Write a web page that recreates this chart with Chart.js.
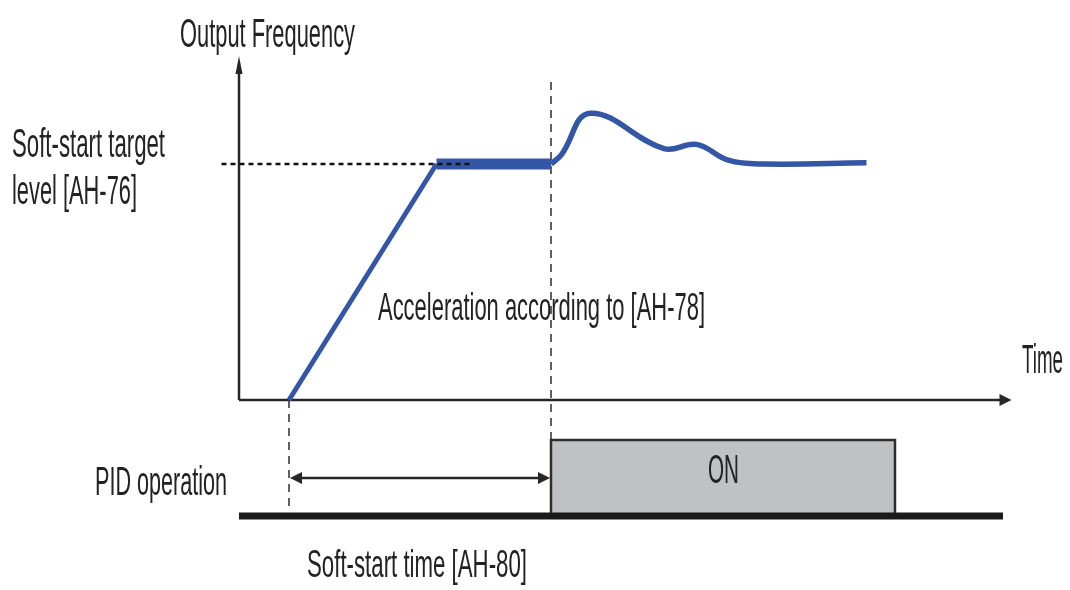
<!DOCTYPE html>
<html>
<head>
<meta charset="utf-8">
<script src="https://cdn.jsdelivr.net/npm/chart.js@4/dist/chart.umd.min.js"></script>
<style>
  body { margin: 0; background: #fff; }
  #wrap { width: 1070px; height: 590px; }
</style>
</head>
<body>
<div id="wrap"><canvas id="chart"></canvas></div>
<script>
// time units: soft-start begins at t=1, frequency in % of target level
const rampTime = [1, 3.95];
const rampFreq = [0, 100];
const holdTime = [3.95, 6.24];
const holdFreq = [100, 100];
const pidTime = [6.24, 6.45, 7.02, 8.5, 9.15, 9.8, 10.5, 12.55];
const pidFreq = [100, 104, 121.5, 106.5, 108.3, 101.5, 100, 100.5];
const targetTime = [-0.35, 4.62];
const targetFreq = [100, 100];
const onTime = [6.24, 6.24, 13.12, 13.12];
const onState = [0, 1, 1, 0];
const baseTime = [0, 15.28];
const baseState = [0, 0];
const softStartBegin = 1;
const softStartEnd = 6.24;
const timeAxisEnd = 15.45;

const blue = 'rgb(52, 86, 166)';
const ink = '#262626';

const pts = (xs, ys) => xs.map((x, i) => ({ x: x, y: ys[i] }));

function fitText(ctx, str, left, baseline, width, size) {
    ctx.font = size + 'px "Liberation Sans Narrow", "Liberation Sans", Arial, sans-serif';
    const w = ctx.measureText(str).width;
    ctx.save();
    ctx.translate(left, baseline);
    ctx.scale(width / w, 1);
    ctx.fillText(str, 0, 0);
    ctx.restore();
}

function arrowHead(ctx, x, y, dir, len, half) {
    ctx.beginPath();
    if (dir === 'right') { ctx.moveTo(x, y); ctx.lineTo(x - len, y - half); ctx.lineTo(x - len, y + half); }
    if (dir === 'left') { ctx.moveTo(x, y); ctx.lineTo(x + len, y - half); ctx.lineTo(x + len, y + half); }
    if (dir === 'up') { ctx.moveTo(x, y); ctx.lineTo(x - half, y + len); ctx.lineTo(x + half, y + len); }
    ctx.closePath();
    ctx.fill();
}

const diagram = {
    id: 'diagram',
    beforeDatasetsDraw(chart) {
        const ctx = chart.ctx;
        const xs = chart.scales.x, ys = chart.scales.y, y2 = chart.scales.y2;
        const ox = xs.getPixelForValue(0), oy = ys.getPixelForValue(0);
        ctx.save();
        ctx.strokeStyle = ink;
        ctx.fillStyle = ink;
        ctx.lineWidth = 2.5;
        // axes
        ctx.beginPath();
        ctx.moveTo(ox, oy);
        ctx.lineTo(ox, 70);
        ctx.moveTo(ox, oy);
        ctx.lineTo(xs.getPixelForValue(timeAxisEnd) - 8, oy);
        ctx.stroke();
        arrowHead(ctx, ox, 56, 'up', 18, 3.5);
        arrowHead(ctx, xs.getPixelForValue(timeAxisEnd), oy, 'right', 12, 6);
        // dashed markers
        ctx.setLineDash([8, 6]);
        ctx.lineWidth = 1.6;
        ctx.strokeStyle = '#3a3a3a';
        const sx = xs.getPixelForValue(softStartBegin);
        const ex = xs.getPixelForValue(softStartEnd);
        ctx.beginPath();
        ctx.moveTo(sx, oy);
        ctx.lineTo(sx, y2.getPixelForValue(0.08));
        ctx.moveTo(ex, 82);
        ctx.lineTo(ex, y2.getPixelForValue(1));
        ctx.stroke();
        ctx.restore();
    },
    afterDatasetsDraw(chart) {
        const ctx = chart.ctx;
        const xs = chart.scales.x, y2 = chart.scales.y2;
        ctx.save();
        ctx.strokeStyle = ink;
        ctx.fillStyle = ink;
        // soft-start time span
        const sx = xs.getPixelForValue(softStartBegin);
        const ex = xs.getPixelForValue(softStartEnd);
        const ay = y2.getPixelForValue(0.5);
        ctx.lineWidth = 2.5;
        ctx.beginPath();
        ctx.moveTo(sx + 6, ay);
        ctx.lineTo(ex - 6, ay);
        ctx.stroke();
        arrowHead(ctx, sx + 1, ay, 'left', 12, 6);
        arrowHead(ctx, ex - 1, ay, 'right', 12, 6);
        // labels
        ctx.fillStyle = '#222';
        fitText(ctx, 'Output Frequency', 180, 47, 175, 41);
        fitText(ctx, 'Soft-start target', 12, 157, 153, 40);
        fitText(ctx, 'level [AH-76]', 12, 204, 125, 40);
        fitText(ctx, 'Acceleration according to [AH-78]', 378, 320, 327, 39);
        fitText(ctx, 'Time', 1022, 373, 41, 40);
        fitText(ctx, 'PID operation', 95, 495, 132, 40);
        fitText(ctx, 'ON', 708, 483, 31, 41);
        fitText(ctx, 'Soft-start time [AH-80]', 307, 577, 220, 38);
        ctx.restore();
    }
};

new Chart(document.getElementById('chart'), {
    type: 'scatter',
    data: {
        datasets: [
            {
                label: 'Target level',
                data: pts(targetTime, targetFreq),
                showLine: true,
                borderColor: '#111',
                borderWidth: 2.5,
                borderDash: [5, 4],
                pointRadius: 0,
                order: 0
            },
            {
                label: 'Ramp',
                data: pts(rampTime, rampFreq),
                showLine: true,
                borderColor: blue,
                borderWidth: 5,
                pointRadius: 0,
                order: 1
            },
            {
                label: 'Hold',
                data: pts(holdTime, holdFreq),
                showLine: true,
                borderColor: blue,
                borderWidth: 11,
                borderCapStyle: 'butt',
                pointRadius: 0,
                order: 1
            },
            {
                label: 'PID',
                data: pts(pidTime, pidFreq),
                showLine: true,
                borderColor: blue,
                borderWidth: 5.5,
                tension: 0.4,
                pointRadius: 0,
                order: 1
            },
            {
                label: 'Base',
                data: pts(baseTime, baseState),
                showLine: true,
                yAxisID: 'y2',
                borderColor: '#1a1a1a',
                borderWidth: 7,
                borderCapStyle: 'butt',
                pointRadius: 0,
                order: 2
            },
            {
                label: 'ON',
                data: pts(onTime, onState),
                showLine: true,
                yAxisID: 'y2',
                borderColor: '#2e2e2e',
                borderWidth: 2.5,
                backgroundColor: '#c0c1c3',
                fill: 'origin',
                pointRadius: 0,
                order: 3
            }
        ]
    },
    options: {
        responsive: true,
        maintainAspectRatio: false,
        animation: false,
        layout: { padding: 0 },
        plugins: { legend: { display: false }, tooltip: { enabled: false } },
        scales: {
            x: { type: 'linear', display: false, min: -239 / 50, max: 831 / 50 },
            y: { type: 'linear', display: false, min: -190 / 2.36, max: 400 / 2.36 },
            y2: { type: 'linear', display: false, min: -74 / 76, max: 516 / 76 }
        }
    },
    plugins: [diagram]
});
</script>
</body>
</html>
